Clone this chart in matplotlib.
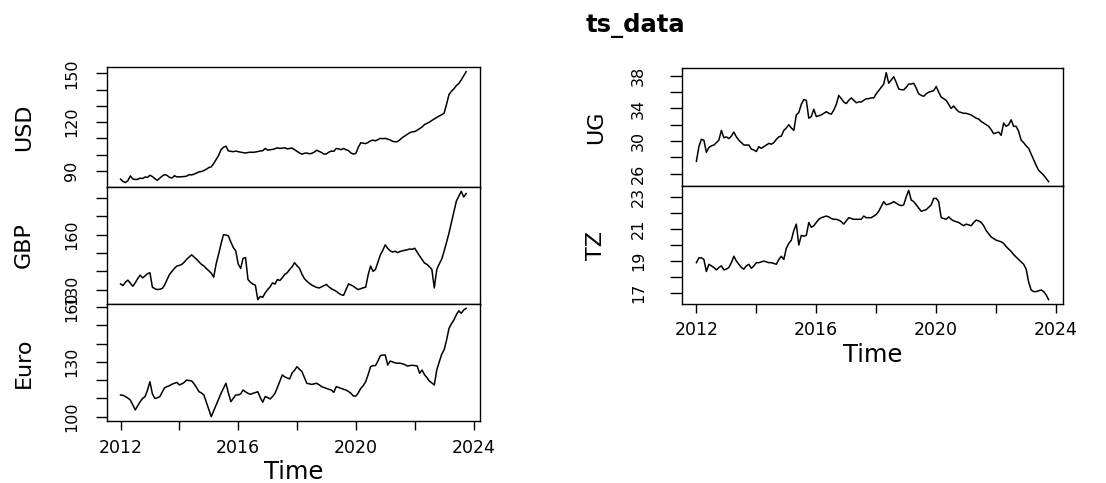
import numpy as np
import matplotlib
matplotlib.use("Agg")
import matplotlib.pyplot as plt

start_year = 2012  # monthly series, Jan 2012 .. Oct 2023

usd = [84.9, 83.5, 82.8, 84.0, 86.9, 85.0, 84.7, 84.8, 85.5, 85.3, 86.2, 86.0,
       87.3, 86.5, 85.2, 84.2, 85.5, 86.8, 87.7, 87.2, 86.0, 85.6, 87.0, 86.3,
       86.3, 86.4, 86.5, 86.8, 87.7, 87.5, 88.0, 88.6, 89.4, 89.6, 90.2, 91.0,
       92.0, 92.5, 94.5, 97.0, 99.5, 103.0, 104.5, 105.2, 102.3, 102.0, 101.8, 102.2,
       101.8, 101.5, 101.2, 101.0, 101.3, 101.5, 101.4, 101.6, 101.9, 102.2, 102.4, 103.8,
       102.8, 103.0, 103.2, 103.6, 104.2, 103.8, 104.0, 104.2, 103.5, 103.8, 104.0, 103.0,
       102.0, 101.0, 100.3, 100.8, 101.0, 100.5, 100.8, 101.5, 102.7, 102.0, 101.3, 100.3,
       100.5, 101.5, 102.2, 102.0, 103.8, 103.5, 103.0, 103.8, 103.0, 102.5, 101.0, 100.3,
       100.8, 104.5, 107.3, 107.0, 106.8, 107.5, 108.5, 108.9, 108.5, 109.2, 110.0, 109.8,
       110.0, 109.5, 109.0, 108.2, 107.9, 108.0, 109.2, 110.5, 111.5, 112.5, 113.5, 114.0,
       114.2, 115.0, 116.0, 117.0, 118.5, 119.2, 120.0, 121.0, 122.0, 122.8, 123.8, 124.5,
       125.5, 131.0, 137.0, 139.0, 140.5, 142.5, 143.8, 146.0, 148.5, 151.0]

gbp = [133.1, 132.2, 134.0, 135.2, 133.5, 131.8, 133.7, 136.0, 137.9, 136.4, 137.5, 138.7,
       139.2, 131.3, 130.5, 130.0, 130.2, 130.6, 132.5, 135.5, 138.3, 140.0, 141.6, 142.9,
       143.2, 143.8, 145.0, 146.6, 147.8, 149.0, 147.8, 146.6, 145.2, 143.8, 142.9, 141.5,
       140.3, 139.0, 136.8, 144.0, 149.3, 155.0, 160.0, 159.8, 159.4, 156.0, 153.0, 151.2,
       144.0, 141.6, 147.1, 147.5, 135.5, 134.0, 133.0, 132.4, 124.5, 126.3, 125.8, 128.2,
       130.0, 131.5, 133.7, 133.0, 135.5, 135.0, 136.5, 138.3, 139.2, 141.0, 142.5, 144.7,
       143.0, 141.6, 138.5, 136.0, 134.6, 133.5, 132.5, 131.8, 131.2, 130.9, 131.5, 132.2,
       132.8, 131.5, 130.5, 129.8, 129.1, 128.0, 127.2, 126.9, 130.0, 133.1, 132.5, 131.8,
       130.8, 130.0, 130.5, 131.0, 131.3, 138.0, 142.9, 140.0, 141.0, 145.0, 149.0, 151.5,
       154.5, 152.5, 151.2, 150.5, 151.0, 150.2, 150.8, 151.2, 151.5, 151.8, 152.2, 152.0,
       152.6, 150.5, 148.4, 146.5, 144.5, 143.8, 142.5, 141.0, 130.9, 141.0, 144.0, 146.6,
       151.0, 155.8, 161.0, 166.8, 172.5, 178.4, 181.0, 183.7, 180.6, 182.5]

euro = [111.9, 111.7, 111.0, 110.2, 109.1, 106.5, 103.7, 106.0, 108.2, 110.0, 111.0, 114.6,
        119.2, 112.5, 110.0, 110.3, 111.0, 113.5, 115.9, 116.5, 117.0, 117.8, 118.3, 118.8,
        117.4, 118.0, 118.8, 120.1, 119.8, 119.6, 118.0, 116.0, 113.7, 113.0, 111.9, 108.0,
        104.0, 100.0, 103.2, 106.4, 109.5, 112.8, 115.5, 118.3, 113.0, 108.2, 110.0, 111.9,
        111.9, 112.5, 114.6, 113.6, 112.8, 112.2, 112.8, 113.2, 113.7, 110.5, 107.9, 111.0,
        110.5, 109.7, 111.0, 112.8, 116.0, 119.5, 122.9, 121.8, 121.2, 120.7, 124.0, 125.5,
        127.4, 126.0, 124.7, 121.5, 118.3, 118.0, 117.7, 118.0, 118.3, 117.5, 116.5, 116.0,
        115.5, 115.0, 114.6, 113.3, 116.5, 116.0, 115.5, 115.0, 114.6, 113.8, 112.8, 111.3,
        111.3, 113.0, 115.5, 117.0, 119.2, 123.0, 127.4, 128.0, 128.0, 130.5, 133.5, 133.8,
        133.8, 128.3, 130.5, 130.0, 129.5, 129.3, 129.3, 129.0, 128.5, 127.8, 128.0, 128.2,
        128.0, 127.8, 123.8, 125.6, 123.0, 121.4, 119.5, 118.5, 117.4, 125.6, 130.0, 134.2,
        136.6, 142.0, 148.4, 151.0, 153.0, 156.0, 158.0, 156.7, 158.5, 159.4]

ug = [27.5, 29.3, 30.2, 30.1, 28.6, 29.2, 29.4, 29.5, 29.8, 30.1, 31.3, 30.4,
      30.5, 30.3, 30.6, 31.1, 30.5, 30.1, 29.8, 29.5, 29.5, 29.5, 29.0, 28.9,
      28.7, 29.3, 29.1, 29.3, 29.5, 29.7, 29.6, 29.8, 30.2, 30.5, 30.6, 31.3,
      31.6, 32.0, 31.6, 31.3, 33.2, 33.5, 34.5, 35.1, 35.0, 32.8, 33.0, 33.9,
      33.0, 33.1, 33.2, 33.4, 33.6, 33.4, 33.3, 33.8, 34.5, 35.6, 35.2, 34.8,
      34.6, 35.0, 35.3, 35.0, 34.7, 34.8, 34.8, 35.0, 35.2, 35.2, 35.3, 35.3,
      35.8, 36.2, 36.6, 37.0, 38.4, 37.1, 37.5, 37.9, 37.2, 36.4, 36.3, 36.3,
      36.6, 37.0, 37.0, 37.1, 36.5, 35.8, 35.6, 35.5, 35.8, 36.0, 36.1, 36.2,
      36.7, 36.0, 35.4, 35.2, 35.0, 34.5, 34.0, 34.3, 33.9, 33.6, 33.5, 33.4,
      33.4, 33.3, 33.2, 33.0, 32.8, 32.7, 32.4, 32.2, 32.0, 31.8, 31.4, 30.9,
      31.0, 31.1, 30.7, 32.2, 31.8, 32.0, 32.6, 31.8, 31.8, 31.2, 30.1, 29.8,
      29.4, 29.1, 28.4, 27.7, 27.0, 26.4, 26.1, 25.8, 25.4, 25.0]

tz = [18.9, 19.2, 19.2, 19.1, 18.35, 18.8, 18.7, 18.6, 18.45, 18.6, 18.7, 18.45,
      18.5, 18.6, 18.9, 19.3, 19.0, 18.8, 18.6, 18.5, 18.7, 18.8, 18.55, 18.7,
      18.9, 18.9, 18.95, 19.0, 18.95, 18.9, 18.9, 18.85, 18.8, 19.1, 19.3, 19.1,
      19.8, 20.1, 20.3, 20.9, 21.3, 20.0, 20.6, 20.55, 20.6, 21.4, 21.1, 21.2,
      21.4, 21.6, 21.7, 21.75, 21.8, 21.75, 21.65, 21.6, 21.6, 21.55, 21.45, 21.3,
      21.5, 21.7, 21.65, 21.6, 21.6, 21.6, 21.6, 21.8, 21.7, 21.7, 21.7, 21.8,
      21.9, 22.1, 22.4, 22.7, 22.5, 22.55, 22.6, 22.7, 22.6, 22.5, 22.45, 22.5,
      23.0, 23.4, 22.8, 22.7, 22.5, 22.3, 22.1, 22.15, 22.2, 22.35, 22.5, 22.9,
      22.9, 22.7, 21.7, 21.65, 21.6, 21.75, 21.6, 21.5, 21.45, 21.4, 21.3, 21.2,
      21.3, 21.25, 21.2, 21.4, 21.55, 21.5, 21.4, 21.2, 20.9, 20.7, 20.5, 20.4,
      20.3, 20.25, 20.2, 20.1, 19.9, 19.75, 19.6, 19.4, 19.25, 19.1, 18.95, 18.8,
      18.5, 17.7, 17.2, 17.1, 17.1, 17.15, 17.2, 17.1, 16.9, 16.6]

series_names = ["USD", "GBP", "Euro", "UG", "TZ"]
series_values = [usd, gbp, euro, ug, tz]

ytick_values = {
    "USD": [90, 100, 110, 120, 130, 140, 150],
    "GBP": [130, 140, 150, 160, 170, 180],
    "Euro": [100, 110, 120, 130, 140, 150, 160],
    "UG": [26, 28, 30, 32, 34, 36, 38],
    "TZ": [17, 18, 19, 20, 21, 22, 23],
}
ytick_labels = {
    "USD": ["90", "", "", "120", "", "", "150"],
    "GBP": ["130", "", "", "160", "", ""],
    "Euro": ["100", "", "", "130", "", "", "160"],
    "UG": ["26", "", "30", "", "34", "", "38"],
    "TZ": ["17", "", "19", "", "21", "", "23"],
}
xtick_values = [2012, 2014, 2016, 2018, 2020, 2022, 2024]
xtick_labels = ["2012", "", "2016", "", "2020", "", "2024"]
title = "ts_data"
xlabel = "Time"

W, H = 1106, 483
fig = plt.figure(figsize=(W / 100, H / 100), dpi=100)
plt.rcParams['font.family'] = ['DejaVu Sans']

def rect(x0, x1, ytop, ybot):
    return [x0 / W, 1 - ybot / H, (x1 - x0) / W, (ybot - ytop) / H]

# pixel boxes of each panel
boxes = {
    "USD": rect(106.7, 480, 67.3, 187),
    "GBP": rect(106.7, 480, 187, 304),
    "Euro": rect(106.7, 480, 304, 421),
    "UG": rect(682.3, 1062.7, 68.3, 186),
    "TZ": rect(682.3, 1062.7, 186, 304),
}
bottom_panels = {"Euro", "TZ"}
right_col = {"UG", "TZ"}
ylab_x = {"USD": 24, "GBP": 24, "Euro": 24, "UG": 596, "TZ": 596}

for name, vals in zip(series_names, series_values):
    vals = np.asarray(vals, dtype=float)
    t = start_year + np.arange(len(vals)) / 12.0
    ax = fig.add_axes(boxes[name])
    ax.plot(t, vals, color="black", lw=1.1)
    r = vals.max() - vals.min()
    ax.set_ylim(vals.min() - 0.04 * r, vals.max() + 0.04 * r)
    rt = t.max() - t.min()
    ax.set_xlim(t.min() - 0.04 * rt, t.max() + 0.04 * rt)
    for s in ax.spines.values():
        s.set_linewidth(1.0)
    ax.set_yticks(ytick_values[name])
    ax.set_yticklabels(ytick_labels[name], rotation=90, va="center", fontsize=11.5)
    ypad = 17 if name in right_col else 12
    ax.tick_params(axis="y", direction="out", length=8 if name not in right_col else 9,
                   width=1.0, pad=ypad)
    ax.set_xticks(xtick_values)
    if name in bottom_panels:
        ax.set_xticklabels(xtick_labels, fontsize=12.5)
        ax.tick_params(axis="x", direction="out", length=6.5, width=1.0,
                       pad=5.5 if name in right_col else 6.5)
    else:
        ax.tick_params(axis="x", bottom=False, labelbottom=False)
    b = boxes[name]
    fig.text(ylab_x[name] / W, b[1] + b[3] / 2, name, rotation=90,
             ha="center", va="center", fontsize=16)

fig.text(293.5 / W, 1 - 479 / H, xlabel, ha="center", va="baseline", fontsize=17.5)
fig.text(872.5 / W, 1 - 362 / H, xlabel, ha="center", va="baseline", fontsize=17.5)
fig.text(635 / W, 1 - 32 / H, title, ha="center", va="baseline", fontsize=17.5,
         fontweight="bold")

fig.savefig("out.png", dpi=100)
